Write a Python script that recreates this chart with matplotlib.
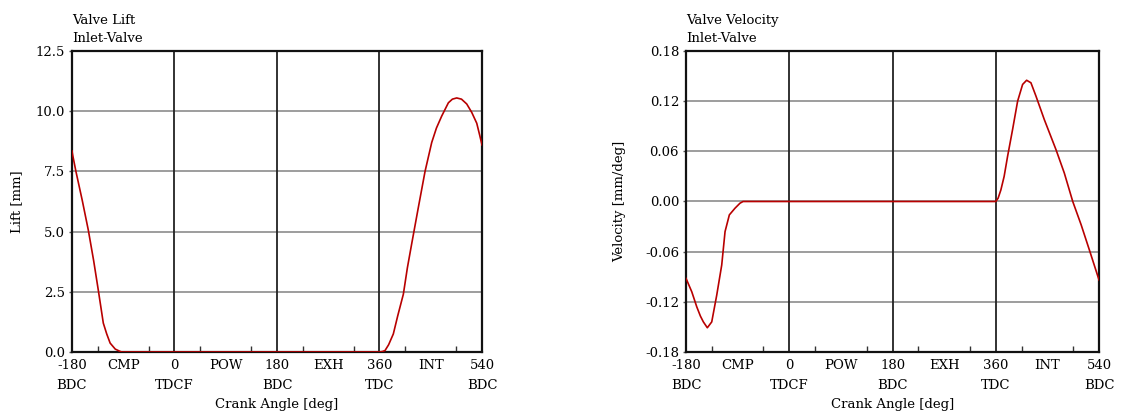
import matplotlib
matplotlib.use("Agg")
import matplotlib.pyplot as plt
import numpy as np

plt.rcParams['font.family'] = ['DejaVu Serif', 'Liberation Serif']

# ---- data ----
lift_deg = [-180, -178.8, -173, -162, -151.4, -142, -133.8, -125, -119, -113, -104, -96, -92.7,
            -60, 0, 180, 360, 365, 369.7, 376, 384.3, 392, 401.9, 409, 416.6, 428.2, 440,
            451.7, 460, 469.3, 481, 488, 495.6, 504, 513.2, 522, 530.8, 536, 540]
lift_mm = [8.35, 8.18, 7.49, 6.3, 5.07, 3.8, 2.57, 1.2, 0.75, 0.37, 0.12, 0.03, 0.0,
           0.0, 0.0, 0.0, 0.0, 0.02, 0.06, 0.3, 0.75, 1.5, 2.4, 3.5, 4.5, 6.0, 7.5,
           8.7, 9.3, 9.8, 10.35, 10.5, 10.55, 10.5, 10.3, 9.95, 9.5, 9.0, 8.6]

vel_deg = [-180, -175, -170, -161.3, -155, -149.8, -142.9, -135.2, -126.5, -117.8, -112,
           -104.5, -94.6, -85.9, -80.6, 0, 180, 360, 364, 368.8, 374.5, 380.5, 389.2, 398,
           406.7, 413.7, 421.2, 430, 444.5, 464.9, 479.4, 494.1, 508.8, 523.1, 540]
vel_mm = [-0.092, -0.1, -0.108, -0.126, -0.137, -0.144, -0.151, -0.144, -0.112, -0.076, -0.036,
          -0.016, -0.008, -0.002, 0.0, 0.0, 0.0, 0.0, 0.004, 0.0138, 0.03, 0.054, 0.086, 0.12,
          0.14, 0.145, 0.142, 0.126, 0.098, 0.062, 0.034, 0.0, -0.028, -0.058, -0.094]

xticks = [-180, -90, 0, 90, 180, 270, 360, 450, 540]
xticklabels = ["-180\nBDC", "CMP", "0\nTDCF", "POW", "180\nBDC", "EXH", "360\nTDC", "INT", "540\nBDC"]
lift_ticks = [0.0, 2.5, 5.0, 7.5, 10.0, 12.5]
lift_ticklabels = ["0.0", "2.5", "5.0", "7.5", "10.0", "12.5"]
vel_ticks = [-0.18, -0.12, -0.06, 0.0, 0.06, 0.12, 0.18]
vel_ticklabels = ["-0.18", "-0.12", "-0.06", "0.00", "0.06", "0.12", "0.18"]
tdc_lines = [0, 180, 360]

fig = plt.figure(figsize=(11.23, 4.19), dpi=100)
ax1 = fig.add_axes([0.0641, 0.1599, 0.3651, 0.7184])
ax2 = fig.add_axes([0.6109, 0.1599, 0.3678, 0.7184])

FS = 9.5
def style(ax, yt, ytl, ylim, title, ylabel, ylabel_x):
    ax.set_xlim(-180, 540)
    ax.set_ylim(*ylim)
    ax.set_yticks(yt)
    ax.set_yticklabels(ytl, fontsize=FS)
    ax.set_xticks(xticks)
    ax.set_xticklabels(xticklabels, fontsize=FS, linespacing=1.7)
    ax.set_xticks(np.arange(-135, 540, 45), minor=True)
    ax.tick_params(axis='x', which='major', length=0, pad=5)
    ax.tick_params(axis='x', which='minor', direction='in', length=4, width=1, color='#333333')
    ax.tick_params(axis='y', which='major', direction='out', length=2, width=1, pad=3, color='#555555')
    for y in yt[1:-1]:
        ax.axhline(y, color='#8c8c8c', lw=1.2, zorder=1)
    for x in tdc_lines:
        ax.axvline(x, color='#222222', lw=1.3, zorder=1)
    for s in ax.spines.values():
        s.set_linewidth(1.6)
        s.set_color('#111111')
    ax.text(0.0, 1.02, title, transform=ax.transAxes, ha='left', va='bottom',
            fontsize=FS, linespacing=1.45)
    ax.set_xlabel("Crank Angle [deg]", fontsize=FS, labelpad=4)
    ax.set_ylabel(ylabel, fontsize=FS)
    ax.yaxis.set_label_coords(ylabel_x, 0.5)

ax1.plot(lift_deg, lift_mm, color='#b80000', lw=1.2, zorder=3)
style(ax1, lift_ticks, lift_ticklabels, (0, 12.5), "Valve Lift\nInlet-Valve", "Lift [mm]", -0.118)

ax2.plot(vel_deg, vel_mm, color='#b80000', lw=1.2, zorder=3)
style(ax2, vel_ticks, vel_ticklabels, (-0.18, 0.18), "Valve Velocity\nInlet-Valve", "Velocity [mm/deg]", -0.145)

fig.savefig("out.png", dpi=100)
